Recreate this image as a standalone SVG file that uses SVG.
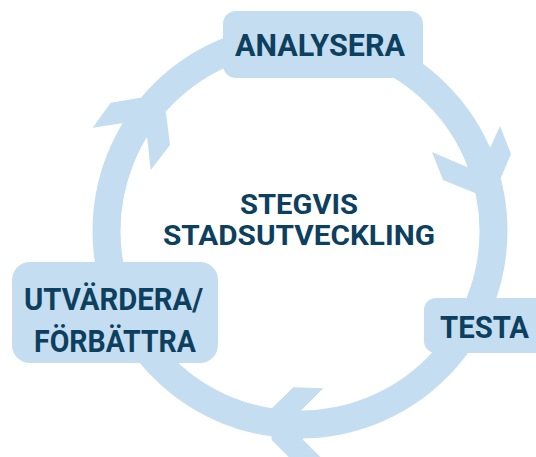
<svg xmlns="http://www.w3.org/2000/svg" width="536" height="457" viewBox="0 0 536 457">
<style>
.band{fill:none;stroke:#c4ddf1;stroke-width:28}
.arrow{fill:#c4ddf1}
.box{fill:#c4ddf1}
.lbl{font-family:Roboto,"Liberation Sans",sans-serif;font-weight:bold;fill:#0d3f5f;font-size:32px}
.ctr{font-size:28px}
</style>
<rect width="536" height="457" fill="#ffffff"/>
<g id="connectors">
<circle class="band" cx="300" cy="231" r="193.5"/>
<polygon class="arrow" points="500,126 511,154 500,180 475,193 443,180 432,152 467,167 490,148"/>
<polygon class="arrow" points="293.3,387.3 323.3,388.3 299.3,412.3 303.3,440 330.3,467 298.7,467 271.7,440 270,410"/>
<polygon class="arrow" points="92.7,127.7 110.7,102.7 140,97.7 166,112.7 170,145 150.7,170 147.3,138.3 121.7,123.3"/>
</g>
<g id="node-analysera">
<rect class="box" x="223" y="11" width="200" height="67" rx="13"/>
<text class="lbl" x="235" y="56" textLength="170" lengthAdjust="spacingAndGlyphs">ANALYSERA</text>
</g>
<g id="node-testa">
<rect class="box" x="424" y="298" width="130" height="55" rx="12"/>
<text class="lbl" x="440" y="338" textLength="89" lengthAdjust="spacingAndGlyphs">TESTA</text>
</g>
<g id="node-utvardera">
<rect class="box" x="12" y="262" width="206" height="101" rx="18"/>
<text class="lbl" x="24" y="310" textLength="179" lengthAdjust="spacingAndGlyphs">UTVÄRDERA/</text>
<text class="lbl" x="34" y="352" textLength="162" lengthAdjust="spacingAndGlyphs">FÖRBÄTTRA</text>
</g>
<g id="node-center">
<text class="lbl ctr" x="240" y="214" textLength="118" lengthAdjust="spacingAndGlyphs">STEGVIS</text>
<text class="lbl ctr" x="163" y="245" textLength="272" lengthAdjust="spacingAndGlyphs">STADSUTVECKLING</text>
</g>
</svg>
